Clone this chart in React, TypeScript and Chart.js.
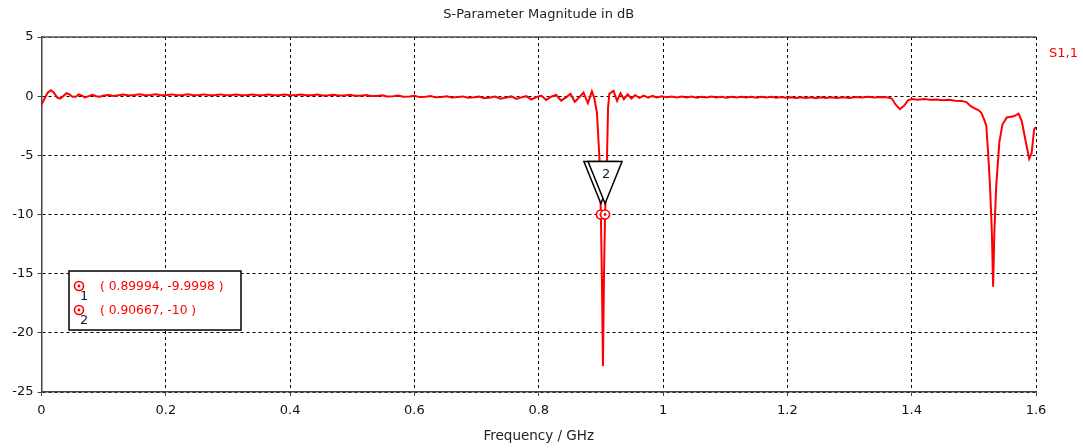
import React, { useEffect, useRef } from 'react';
import { Chart, registerables } from 'chart.js';

Chart.register(...registerables);

const titleText = 'S-Parameter Magnitude in dB';
const xAxisTitle = 'Frequency / GHz';
const seriesName = 'S1,1';

const xTicks = [0, 0.2, 0.4, 0.6, 0.8, 1.0, 1.2, 1.4, 1.6];
const yTicks = [5, 0, -5, -10, -15, -20, -25];

const markerFreq = [0.89994, 0.90667];
const markerDb = [-9.9998, -10];
const markerIds = ['1', '2'];
const markerTexts = ['( 0.89994, -9.9998 )', '( 0.90667, -10 )'];

const freqGHz = [
  0.000, 0.005, 0.010, 0.015, 0.020, 0.025, 0.030, 0.035, 0.040, 0.045,
  0.050, 0.055, 0.060, 0.065, 0.070, 0.076, 0.082, 0.088, 0.094, 0.100,
  0.108, 0.116, 0.124, 0.132, 0.140, 0.150, 0.158, 0.166, 0.176, 0.184,
  0.192, 0.202, 0.210, 0.218, 0.228, 0.236, 0.244, 0.254, 0.262, 0.270,
  0.280, 0.288, 0.296, 0.306, 0.314, 0.322, 0.332, 0.340, 0.348, 0.358,
  0.366, 0.374, 0.384, 0.392, 0.400, 0.410, 0.418, 0.426, 0.436, 0.444,
  0.452, 0.462, 0.470, 0.478, 0.488, 0.496, 0.504, 0.514, 0.522, 0.530,
  0.540, 0.548, 0.556, 0.566, 0.574, 0.582, 0.592, 0.600, 0.608, 0.618,
  0.626, 0.634, 0.644, 0.652, 0.660, 0.670, 0.678, 0.686, 0.696, 0.704,
  0.712, 0.722, 0.730, 0.738, 0.748, 0.756, 0.764, 0.772, 0.780, 0.788,
  0.796, 0.804, 0.812, 0.820, 0.828, 0.836, 0.844, 0.851, 0.858, 0.866,
  0.872, 0.879, 0.8855, 0.8895, 0.8936, 0.8978, 0.89994, 0.9015, 0.9033, 0.9050,
  0.90667, 0.9097, 0.9115, 0.9135, 0.9203, 0.9260, 0.9315, 0.9370, 0.943, 0.949,
  0.955, 0.962, 0.969, 0.976, 0.983, 0.990, 0.998, 1.006, 1.014, 1.022,
  1.030, 1.038, 1.046, 1.054, 1.062, 1.070, 1.078, 1.086, 1.094, 1.102,
  1.110, 1.118, 1.126, 1.134, 1.142, 1.150, 1.158, 1.166, 1.174, 1.182,
  1.190, 1.198, 1.206, 1.214, 1.222, 1.230, 1.238, 1.246, 1.254, 1.262,
  1.270, 1.280, 1.290, 1.300, 1.310, 1.320, 1.330, 1.340, 1.350, 1.360,
  1.368, 1.374, 1.381, 1.388, 1.394, 1.400, 1.410, 1.420, 1.430, 1.440,
  1.450, 1.460, 1.470, 1.480, 1.488, 1.495, 1.502, 1.508, 1.512, 1.516,
  1.520, 1.523, 1.526, 1.529, 1.531, 1.533, 1.536, 1.541, 1.546, 1.553,
  1.564, 1.572, 1.577, 1.583, 1.589, 1.593, 1.597, 1.600,
];

const s11dB = [
  -0.70, -0.20, 0.30, 0.50, 0.30, -0.10, -0.20, 0.00, 0.25, 0.15,
  -0.05, -0.05, 0.15, 0.05, -0.10, 0.00, 0.12, 0.00, -0.05, 0.05,
  0.10, 0.02, 0.08, 0.14, 0.06, 0.10, 0.16, 0.08, 0.10, 0.16,
  0.08, 0.10, 0.15, 0.07, 0.10, 0.16, 0.08, 0.10, 0.15, 0.07,
  0.10, 0.15, 0.07, 0.09, 0.14, 0.07, 0.09, 0.14, 0.07, 0.09,
  0.14, 0.07, 0.09, 0.14, 0.07, 0.09, 0.14, 0.07, 0.08, 0.13,
  0.06, 0.07, 0.12, 0.05, 0.06, 0.11, 0.03, 0.04, 0.09, 0.01,
  0.02, 0.07, -0.02, -0.01, 0.05, -0.05, -0.03, 0.03, -0.08, -0.05,
  0.02, -0.10, -0.07, 0.00, -0.12, -0.08, -0.02, -0.14, -0.10, -0.04,
  -0.18, -0.12, -0.04, -0.22, -0.12, -0.02, -0.24, -0.10, 0.00, -0.28,
  -0.08, 0.05, -0.32, -0.05, 0.10, -0.38, -0.10, 0.20, -0.48, -0.05,
  0.30, -0.60, 0.40, -0.20, -1.40, -5.40, -10.00, -15.00, -22.80, -15.00,
  -10.00, -5.40, -1.00, 0.20, 0.45, -0.40, 0.25, -0.25, 0.15, -0.20,
  0.08, -0.15, 0.05, -0.12, 0.02, -0.10, 0.00, -0.10, -0.02, -0.12,
  -0.04, -0.12, -0.04, -0.14, -0.06, -0.12, -0.04, -0.12, -0.06, -0.14,
  -0.06, -0.12, -0.05, -0.12, -0.06, -0.14, -0.06, -0.12, -0.06, -0.14,
  -0.08, -0.14, -0.10, -0.16, -0.10, -0.16, -0.10, -0.18, -0.10, -0.16,
  -0.10, -0.15, -0.10, -0.15, -0.08, -0.12, -0.06, -0.12, -0.08, -0.10,
  -0.20, -0.70, -1.10, -0.80, -0.35, -0.25, -0.30, -0.25, -0.30, -0.28,
  -0.35, -0.30, -0.38, -0.40, -0.50, -0.85, -1.05, -1.20, -1.40, -1.90,
  -2.50, -4.80, -7.60, -11.50, -16.10, -11.50, -7.60, -3.90, -2.40, -1.80,
  -1.70, -1.47, -2.10, -3.70, -5.30, -4.80, -2.80, -2.60,
];

const FONT = "'DejaVu Sans', sans-serif";
const RED = '#ff0000';

function drawMarkerIcon(ctx: CanvasRenderingContext2D, x: number, y: number) {
  ctx.save();
  ctx.strokeStyle = RED;
  ctx.fillStyle = RED;
  ctx.lineWidth = 1.6;
  ctx.beginPath();
  ctx.arc(x, y, 4.5, 0, Math.PI * 2);
  ctx.stroke();
  ctx.beginPath();
  ctx.arc(x, y, 1.4, 0, Math.PI * 2);
  ctx.fill();
  ctx.restore();
}

const overlayPlugin = {
  id: 'overlay',
  afterDatasetsDraw(chart: any) {
    const { ctx, chartArea, scales } = chart;
    const xs = scales.x;
    const ys = scales.y;
    ctx.save();
    ctx.strokeStyle = '#555';
    ctx.lineWidth = 1.5;
    ctx.beginPath();
    ctx.moveTo(chartArea.left, chartArea.top);
    ctx.lineTo(chartArea.right, chartArea.top);
    ctx.stroke();

    markerFreq.forEach((f, i) => {
      const px = xs.getPixelForValue(f);
      const py = ys.getPixelForValue(markerDb[i]);
      const apexY = py - 11;
      const topY = py - 53;
      const hw = 17;
      ctx.fillStyle = '#fff';
      ctx.strokeStyle = '#000';
      ctx.lineWidth = 1.5;
      ctx.beginPath();
      ctx.moveTo(px - hw, topY);
      ctx.lineTo(px + hw, topY);
      ctx.lineTo(px, apexY);
      ctx.closePath();
      ctx.fill();
      ctx.stroke();
      ctx.fillStyle = '#1a1a40';
      ctx.font = `13px ${FONT}`;
      ctx.textAlign = 'center';
      ctx.textBaseline = 'middle';
      ctx.fillText(markerIds[i], px + 1, topY + 13);
    });

    markerFreq.forEach((f, i) => {
      const px = xs.getPixelForValue(f);
      const py = ys.getPixelForValue(markerDb[i]);
      ctx.fillStyle = '#fff';
      ctx.beginPath();
      ctx.arc(px, py, 4.5, 0, Math.PI * 2);
      ctx.fill();
      drawMarkerIcon(ctx, px, py);
    });

    const bx = 69, by = 271, bw = 172, bh = 59;
    ctx.fillStyle = '#fff';
    ctx.fillRect(bx, by, bw, bh);
    ctx.strokeStyle = '#000';
    ctx.lineWidth = 1.5;
    ctx.strokeRect(bx, by, bw, bh);
    markerTexts.forEach((t, i) => {
      const rowY = by + 15 + i * 24;
      drawMarkerIcon(ctx, bx + 10, rowY);
      ctx.fillStyle = '#1a1a40';
      ctx.font = `13px ${FONT}`;
      ctx.textAlign = 'left';
      ctx.textBaseline = 'middle';
      ctx.fillText(markerIds[i], bx + 11, rowY + 11);
      ctx.fillStyle = RED;
      ctx.font = `12.3px ${FONT}`;
      ctx.fillText(t, bx + 31, rowY + 1);
    });
    ctx.restore();
  },
  afterDraw(chart: any) {
    const { ctx, chartArea } = chart;
    ctx.save();
    ctx.fillStyle = '#222';
    ctx.font = `13px ${FONT}`;
    ctx.textAlign = 'center';
    ctx.textBaseline = 'middle';
    ctx.fillText(titleText, (chartArea.left + chartArea.right) / 2, 15);
    ctx.font = `13.5px ${FONT}`;
    ctx.fillText(xAxisTitle, (chartArea.left + chartArea.right) / 2, 436);
    ctx.fillStyle = RED;
    ctx.font = `13px ${FONT}`;
    ctx.textAlign = 'left';
    ctx.fillText(seriesName, chartArea.right + 13, 54);
    ctx.restore();
  },
};

export default function App() {
  const canvasRef = useRef<HTMLCanvasElement | null>(null);

  useEffect(() => {
    document.body.style.margin = '0';
    const canvas = canvasRef.current;
    if (!canvas) return;
    const points = freqGHz.map((f, i) => ({ x: f, y: s11dB[i] }));
    const chart = new Chart(canvas, {
      type: 'line',
      data: {
        datasets: [
          {
            label: seriesName,
            data: points,
            borderColor: RED,
            borderWidth: 2,
            pointRadius: 0,
            tension: 0,
            fill: false,
          },
        ],
      },
      options: {
        animation: false,
        responsive: false,
        maintainAspectRatio: false,
        layout: { padding: { top: 37, right: 47, left: 0, bottom: 0 } },
        plugins: {
          legend: { display: false },
          title: { display: false },
          tooltip: { enabled: false },
        },
        scales: {
          x: {
            type: 'linear',
            min: 0,
            max: 1.6,
            afterBuildTicks: (s: any) => {
              s.ticks = xTicks.map((v) => ({ value: v }));
            },
            afterFit: (s: any) => {
              s.height = 56;
            },
            ticks: {
              color: '#111',
              font: { family: FONT, size: 13 },
              padding: 7,
              maxRotation: 0,
              autoSkip: false,
              callback: (v: any) => String(Math.round(Number(v) * 10) / 10),
            },
            grid: {
              color: '#000',
              lineWidth: 1,
              tickLength: 4,
              tickColor: '#444',
              tickBorderDash: [],
            },
            border: { display: true, color: '#444', width: 1.5, dash: [3, 3] },
          },
          y: {
            type: 'linear',
            min: -25,
            max: 5,
            afterBuildTicks: (s: any) => {
              s.ticks = yTicks.map((v) => ({ value: v }));
            },
            afterFit: (s: any) => {
              s.width = 41.5;
            },
            ticks: {
              color: '#111',
              font: { family: FONT, size: 13 },
              padding: 4,
              autoSkip: false,
              callback: (v: any) => String(v),
            },
            grid: {
              color: '#000',
              lineWidth: 1,
              tickLength: 4,
              tickColor: '#444',
              tickBorderDash: [],
            },
            border: { display: true, color: '#444', width: 1.5, dash: [3, 3] },
          },
        },
      },
      plugins: [overlayPlugin],
    });
    return () => chart.destroy();
  }, []);

  return (
    <div style={{ width: 1083, height: 448, background: '#fff' }}>
      <canvas ref={canvasRef} width={1083} height={448} style={{ display: 'block' }} />
    </div>
  );
}
